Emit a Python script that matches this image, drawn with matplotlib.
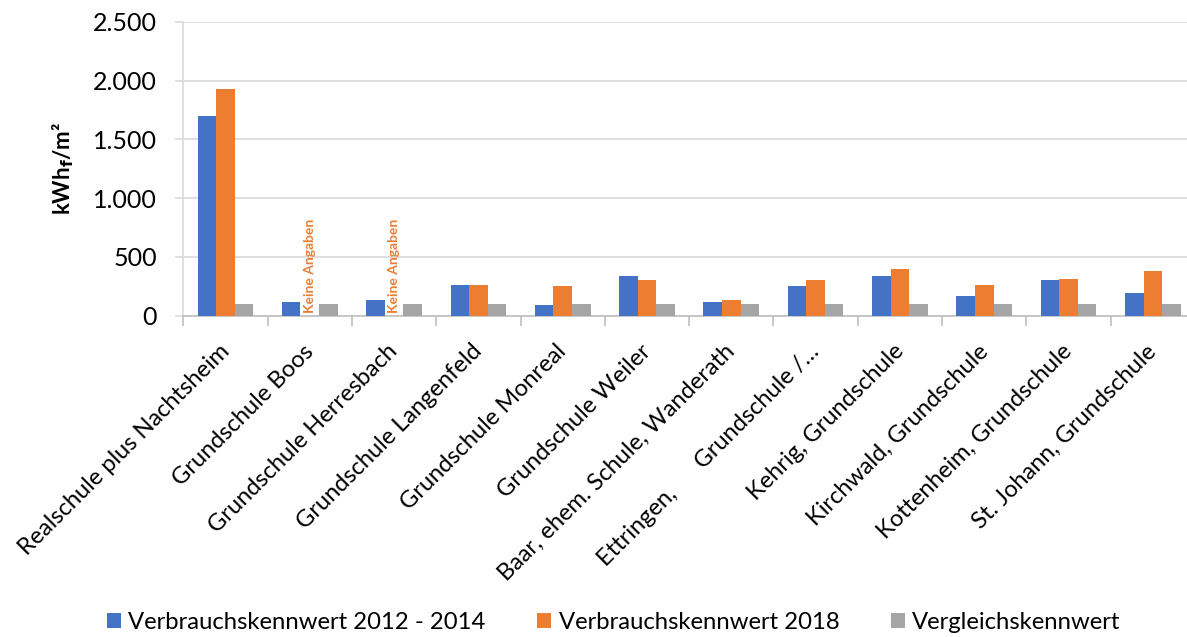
import numpy as np
import matplotlib
matplotlib.use("Agg")
import matplotlib.pyplot as plt
import matplotlib.transforms as mtransforms
from matplotlib.ticker import FuncFormatter, FixedLocator

plt.rcParams['font.family'] = ['Lato', 'DejaVu Sans']

categories = [
    "Realschule plus Nachtsheim",
    "Grundschule Boos",
    "Grundschule Herresbach",
    "Grundschule Langenfeld",
    "Grundschule Monreal",
    "Grundschule Weiler",
    "Baar, ehem. Schule, Wanderath",
    "Ettringen,      Grundschule /\u2026",
    "Kehrig, Grundschule",
    "Kirchwald, Grundschule",
    "Kottenheim, Grundschule",
    "St. Johann, Grundschule",
]
werte_2012_2014 = [1700, 120, 130, 260, 90, 335, 117, 250, 335, 170, 300, 193]
werte_2018 = [1930, np.nan, np.nan, 260, 250, 300, 136, 307, 400, 260, 313, 381]
vergleich = [100, 100, 100, 100, 100, 100, 100, 100, 100, 100, 100, 100]
yticks = [0, 500, 1000, 1500, 2000, 2500]
series_names = ["Verbrauchskennwert 2012 - 2014", "Verbrauchskennwert 2018", "Vergleichskennwert"]
missing_label = "Keine Angaben"

colors = ["#4472C4", "#ED7D31", "#A5A5A5"]

fig = plt.figure(figsize=(11.87, 6.37), dpi=100)
ax = fig.add_axes([183.3 / 1187, 1 - 315.7 / 637, (1195 - 183.3) / 1187, (315.7 - 21.7) / 637])

x = np.arange(len(categories))
w = 0.22
b1 = ax.bar(x - w, werte_2012_2014, w, color=colors[0], label=series_names[0], zorder=3)
o = np.array(werte_2018, dtype=float)
mask = ~np.isnan(o)
b2 = ax.bar(x[mask], o[mask], w, color=colors[1], label=series_names[1], zorder=3)
b3 = ax.bar(x + w, vergleich, w, color=colors[2], label=series_names[2], zorder=3)

for xi in x[~mask]:
    ax.text(xi, 25, missing_label, rotation=90, ha='center', va='bottom',
            color=colors[1], fontsize=10, fontweight='bold', zorder=4)

ax.set_xlim(-0.5, len(categories) - 0.5)
ax.set_ylim(0, 2500)
ax.yaxis.set_major_locator(FixedLocator(yticks))
ax.yaxis.set_major_formatter(FuncFormatter(lambda v, p: f"{v:,.0f}".replace(",", ".")))
ax.grid(axis='y', color='#D9D9D9', linewidth=1.2, zorder=0)
ax.tick_params(axis='y', length=6, color='#D9D9D9', width=1.2, pad=13, labelsize=18)

ax.set_xticks(x)
ax.set_xticklabels(categories, rotation=45, ha='right', rotation_mode='anchor', fontsize=17)
ax.tick_params(axis='x', length=0, pad=18)
offset = mtransforms.ScaledTranslation(-7 / 100, 0, fig.dpi_scale_trans)
for lbl in ax.get_xticklabels():
    lbl.set_transform(lbl.get_transform() + offset)
ax.set_xticks(np.arange(len(categories) + 1) - 0.5, minor=True)
ax.tick_params(axis='x', which='minor', length=7, color='#BFBFBF', width=1.2)

for s in ['top', 'right']:
    ax.spines[s].set_visible(False)
ax.spines['left'].set_color('#D9D9D9')
ax.spines['left'].set_linewidth(1.2)
ax.spines['bottom'].set_color('#BFBFBF')
ax.spines['bottom'].set_linewidth(1.2)

ax.set_ylabel(r"kWh$_\mathbf{f}$/m²", fontsize=16, fontweight='bold', labelpad=12)

fig.legend(handles=[b1, b2, b3], labels=series_names, loc='center', bbox_to_anchor=(0.517, 0.0235),
           ncol=3, frameon=False, fontsize=17.2, handlelength=0.6, handleheight=0.6,
           handletextpad=0.3, columnspacing=2.15, borderaxespad=0)

fig.savefig("out.png", dpi=100)
